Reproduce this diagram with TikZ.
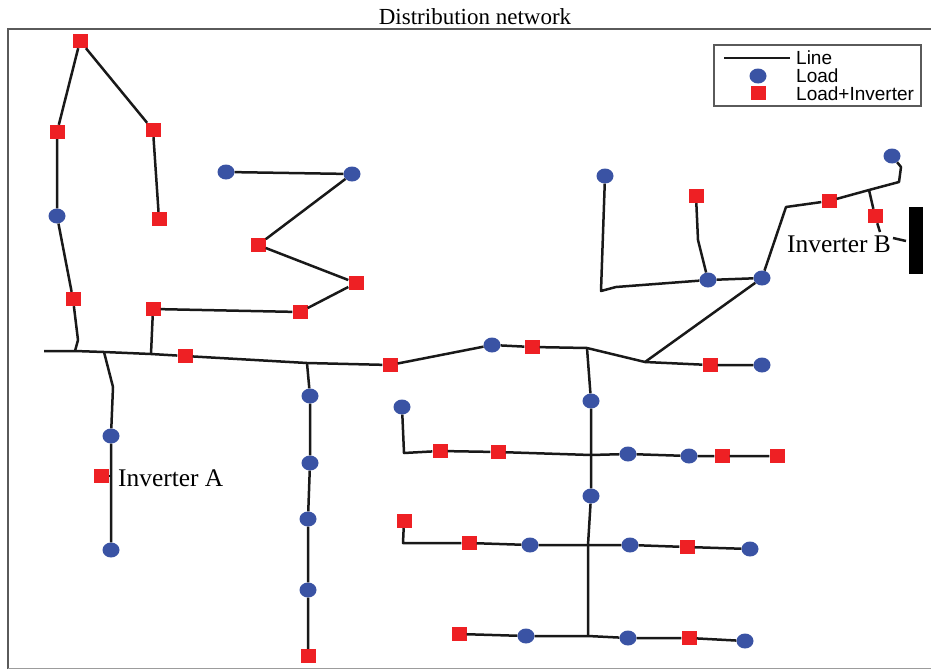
\documentclass[tikz,border=0pt]{standalone}
\usepackage{fontspec}
\setmainfont{Liberation Serif}
\newfontfamily\legendfont{Liberation Sans}
\usetikzlibrary{shapes.geometric}
\definecolor{loadblue}{RGB}{58,83,164}
\definecolor{invred}{RGB}{238,32,36}
\definecolor{framegray}{RGB}{90,90,90}
\tikzset{
    load/.style={ellipse, fill=loadblue, inner sep=0pt, minimum width=17pt, minimum height=15pt},
    loadinv/.style={rectangle, fill=invred, inner sep=0pt, minimum width=15pt, minimum height=14pt},
    wire/.style={line width=2.5pt, black!90, line join=round},
    lbl/.style={font=\fontsize{23}{25}\selectfont, inner sep=0pt},
    invlbl/.style={font=\fontsize{25.4}{27}\selectfont, inner sep=0pt, anchor=west},
    legendlbl/.style={font=\legendfont\fontsize{19}{21}\selectfont, inner sep=0pt, anchor=west}
}
\begin{document}
\begin{tikzpicture}[x=1pt, y=-1pt]
    \useasboundingbox (0,0) rectangle (931,669);

    % FRAME
    \draw[line width=2.5pt, framegray] (8,669) -- (8,29) -- (931,29);
    \draw[line width=1pt, framegray!60] (8,668) -- (931,668);
    \node[lbl] (title) at (475,17) {Distribution network};

    % JUNCTIONS
    \coordinate (mainStart) at (44,351);
    \coordinate (jA) at (75,351);
    \coordinate (jAup) at (78,340);
    \coordinate (jB) at (104,352);
    \coordinate (jBdown) at (113,387);
    \coordinate (jC) at (151,354);
    \coordinate (jD) at (307,363);
    \coordinate (jE) at (587,348);
    \coordinate (jF) at (645,362);
    \coordinate (jG) at (591,455);
    \coordinate (jH) at (588,545);
    \coordinate (jI) at (588,636);
    \coordinate (rowOne) at (404,453);
    \coordinate (rowTwo) at (403,543);
    \coordinate (jK) at (601,291);
    \coordinate (jKb) at (616,287);
    \coordinate (jKc) at (698,240);
    \coordinate (jL) at (786,207);
    \coordinate (jM) at (869,190);
    \coordinate (jN) at (899,182);
    \coordinate (jO) at (901,167);
    \coordinate (jP) at (880,232);
    \coordinate (invBend) at (893,238);
    \coordinate (invBtip) at (906,241);
    \coordinate (invAtick) at (111,476);

    % TOP LEFT LOADS
    \node[loadinv] (a1) at (80,41) {};
    \node[loadinv] (a2) at (57,132) {};
    \node[loadinv] (a3) at (153,130) {};
    \node[loadinv] (a4) at (159,219) {};
    \node[load]    (a5) at (57,216) {};
    \node[loadinv] (a6) at (73,299) {};

    % ZIGZAG BRANCH
    \node[loadinv] (b1) at (153,309) {};
    \node[loadinv] (b2) at (300,312) {};
    \node[loadinv] (b3) at (356,283) {};
    \node[loadinv] (b4) at (258,245) {};
    \node[load]    (b5) at (352,174) {};
    \node[load]    (b6) at (226,172) {};

    % MAIN FEEDER
    \node[loadinv] (m1) at (185,356) {};
    \node[loadinv] (m2) at (390,365) {};
    \node[load]    (m3) at (492,345) {};
    \node[loadinv] (m4) at (532,347) {};
    \node[loadinv] (m5) at (710,365) {};
    \node[load]    (m6) at (762,365) {};

    % INVERTER A BRANCH
    \node[load]    (c1) at (111,436) {};
    \node[load]    (c2) at (111,550) {};
    \node[loadinv] (invA) at (101,476) {};
    \node[invlbl]  (invAlbl) at (118,478) {Inverter A};

    % VERTICAL BRANCH
    \node[load]    (d1) at (310,396) {};
    \node[load]    (d2) at (310,463) {};
    \node[load]    (d3) at (308,519) {};
    \node[load]    (d4) at (308,590) {};
    \node[loadinv] (d5) at (308,656) {};

    % LOWER RIGHT ROWS
    \node[load]    (e1) at (591,401) {};
    \node[load]    (e2) at (591,496) {};

    \node[load]    (f1) at (402,407) {};
    \node[loadinv] (f2) at (440,451) {};
    \node[loadinv] (f3) at (498,452) {};
    \node[load]    (f4) at (628,454) {};
    \node[load]    (f5) at (689,456) {};
    \node[loadinv] (f6) at (722,456) {};
    \node[loadinv] (f7) at (777,456) {};

    \node[loadinv] (g1) at (404,521) {};
    \node[loadinv] (g2) at (469,543) {};
    \node[load]    (g3) at (530,545) {};
    \node[load]    (g4) at (630,545) {};
    \node[loadinv] (g5) at (687,547) {};
    \node[load]    (g6) at (750,549) {};

    \node[loadinv] (h1) at (459,634) {};
    \node[load]    (h2) at (526,636) {};
    \node[load]    (h3) at (628,638) {};
    \node[loadinv] (h4) at (689,638) {};
    \node[load]    (h5) at (745,641) {};

    % UPPER RIGHT
    \node[load]    (k1) at (762,278) {};
    \node[load]    (k2) at (708,280) {};
    \node[load]    (k3) at (605,176) {};
    \node[loadinv] (k4) at (696,196) {};
    \node[loadinv] (k5) at (829,201) {};
    \node[load]    (k6) at (892,156) {};
    \node[loadinv] (invB) at (875,216) {};
    \node[invlbl]  (invBlbl) at (787,244) {Inverter B};
    \node[fill=black, inner sep=0pt, minimum width=14pt, minimum height=67pt] (battery) at (915.5,240.5) {};

    % CONNECTORS
    \draw[wire] (a4) -- (a3) -- (a1) -- (a2) -- (a5) -- (a6) -- (jAup) -- (jA);
    \draw[wire] (mainStart) -- (jA) -- (jB) -- (jC) -- (m1) -- (jD) -- (m2) -- (m3) -- (m4) -- (jE) -- (jF) -- (m5) -- (m6);
    \draw[wire] (jC) -- (b1) -- (b2) -- (b3) -- (b4) -- (b5) -- (b6);
    \draw[wire] (jB) -- (jBdown) -- (c1) -- (c2);
    \draw[wire] (invA) -- (invAtick);
    \draw[wire] (jD) -- (d1) -- (d2) -- (d3) -- (d4) -- (d5);
    \draw[wire] (jE) -- (e1) -- (jG) -- (e2) -- (jH) -- (jI);
    \draw[wire] (f1) -- (rowOne) -- (f2) -- (f3) -- (jG) -- (f4) -- (f5) -- (f6) -- (f7);
    \draw[wire] (g1) -- (rowTwo) -- (g2) -- (g3) -- (jH) -- (g4) -- (g5) -- (g6);
    \draw[wire] (h1) -- (h2) -- (jI) -- (h3) -- (h4) -- (h5);
    \draw[wire] (jF) -- (k1) -- (k2) -- (jKb) -- (jK) -- (k3);
    \draw[wire] (k2) -- (jKc) -- (k4);
    \draw[wire] (k1) -- (jL) -- (k5) -- (jM) -- (jN) -- (jO) -- (k6);
    \draw[wire] (jM) -- (invB) -- (jP);
    \draw[wire] (invBend) -- (invBtip);

    % LEGEND
    \node[draw=framegray, line width=2pt, fill=white, inner sep=0pt, minimum width=207pt, minimum height=60pt] (legend) at (817,75.5) {};
    \coordinate (keyL) at (724,58);
    \coordinate (keyR) at (790,58);
    \draw[wire] (keyL) -- (keyR);
    \node[load]    (keyload) at (758,76) {};
    \node[loadinv] (keyinv) at (758,93) {};
    \node[legendlbl] (keylineT) at (796,58) {Line};
    \node[legendlbl] (keyloadT) at (796,76) {Load};
    \node[legendlbl] (keyinvT) at (796,94) {Load+Inverter};
\end{tikzpicture}
\end{document}
